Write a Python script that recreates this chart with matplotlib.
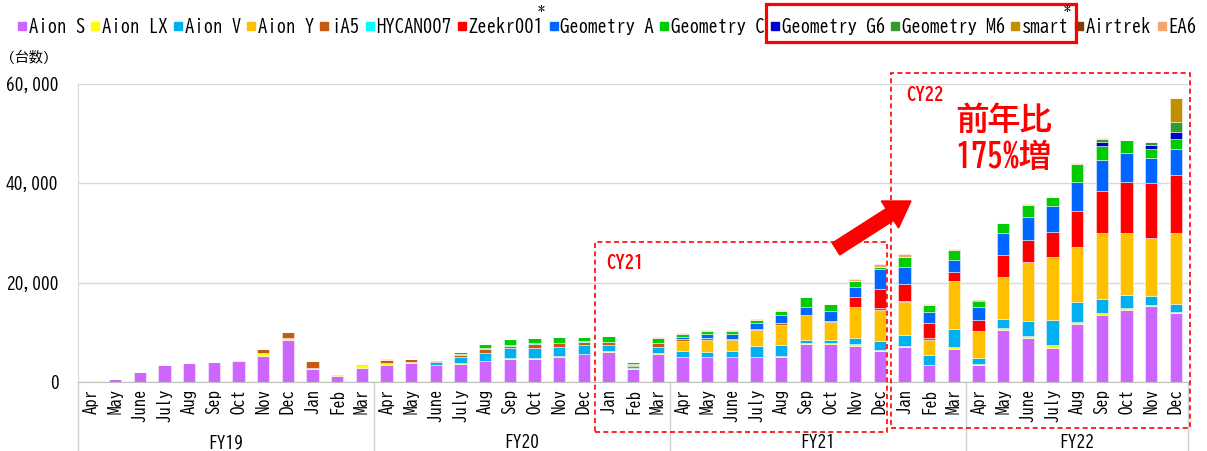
import matplotlib
matplotlib.use('Agg')
import matplotlib.pyplot as plt
import numpy as np
from matplotlib.patches import Rectangle, FancyArrow
from matplotlib.lines import Line2D

plt.rcParams['font.family'] = ['BIZ UDGothic', 'Noto Sans CJK JP', 'DejaVu Sans']

# ---------------- data ----------------
months = (['Apr', 'May', 'June', 'July', 'Aug', 'Sep', 'Oct', 'Nov', 'Dec', 'Jan', 'Feb', 'Mar'] * 3
          + ['Apr', 'May', 'June', 'July', 'Aug', 'Sep', 'Oct', 'Nov', 'Dec'])
fiscal_years = ['FY19', 'FY20', 'FY21', 'FY22']
fy_sizes = [12, 12, 12, 9]

series_names = ['Aion S', 'Aion LX', 'Aion V', 'Aion Y', 'iA5', 'HYCAN007', 'Zeekr001',
                'Geometry A', 'Geometry C', 'Geometry G6', 'Geometry M6', 'smart', 'Airtrek', 'EA6']
series_colors = ['#CC66FF', '#FFFF00', '#00B0F0', '#FFC000', '#C55A11', '#00FFFF', '#FF0000',
                 '#0066FF', '#00CC00', '#0000CC', '#339933', '#BF9000', '#7B3F00', '#F4A46F']

aion_s = [0, 600, 2020, 3365, 3840, 4040, 4170, 5320, 8410, 2560, 1280, 2890,
          3430, 3840, 3430, 3700, 4170, 4710, 4580, 5110, 5590, 6060, 2620, 5720,
          4980, 4980, 4980, 4980, 5110, 7600, 7740, 7340, 6260, 7000, 3365, 6730,
          3365, 10500, 8880, 6800, 11640, 13530, 14540, 15340, 13800]
aion_lx = [0, 0, 0, 0, 0, 0, 340, 470, 470, 340, 270, 540,
           340, 200, 0, 200, 0, 200, 340, 130, 100, 100, 100, 100,
           0, 0, 0, 0, 200, 200, 200, 270, 200, 270, 0, 400,
           270, 400, 340, 600, 470, 400, 270, 150, 200]
aion_v = [0, 0, 0, 0, 0, 0, 0, 0, 0, 0, 0, 0,
          0, 0, 500, 1080, 1750, 1880, 2020, 1880, 1750, 1210, 500, 1210,
          1210, 1080, 1210, 2290, 2090, 670, 540, 1280, 1880, 2220, 2090, 3570,
          1280, 1880, 3030, 5050, 3900, 2690, 2620, 1820, 1620]
aion_y = [0] * 24 + [2090, 2360, 2290, 3300, 4170, 5050, 3700, 6120, 6060, 6530, 3030, 9620,
                     5320, 8350, 11910, 12650, 11100, 13460, 12650, 11640, 14470]
ia5 = [0, 0, 0, 0, 0, 0, 0, 870, 1210, 1280, 0, 200,
       740, 600, 200, 470, 740, 540, 740, 670, 670, 600, 300, 810,
       340, 400, 270, 200, 270, 0, 100, 0, 470, 200, 470, 0,
       100, 0, 0, 0, 0, 0, 0, 0, 0]
hycan007 = [0] * 12 + [0, 0, 300, 270, 150, 100, 150, 100, 150, 100, 100, 100] + [0] * 21
zeekr001 = [0] * 31 + [2020, 3770, 3500, 2890, 1820,
                       2090, 4370, 4370, 5050, 7270, 8350, 10160, 11100, 11580]
geometry_a = [0] * 24 + [400, 810, 1010, 1140, 1620, 1620, 1950, 2090, 4170, 3500, 2150, 2490,
                         2620, 4440, 4780, 5320, 5860, 6330, 5790, 5050, 5250]
geometry_c = [0] * 15 + [340, 940, 1280, 1080, 1080, 870, 1210, 500, 940,
                         600, 670, 540, 670, 740, 2020, 1410, 1140, 400, 2020, 1410, 1950,
                         1350, 2090, 2420, 1820, 3700, 2690, 2690, 1750, 2090]
geometry_g6 = [0] * 41 + [940, 0, 810, 1350]
geometry_m6 = [0] * 41 + [470, 0, 600, 1950]
smart = [0] * 44 + [4850]
airtrek = [0] * 36 + [150] + [0] * 8
ea6 = [0] * 12 + [200] + [0] * 10 + [270,
       270, 270, 270, 200, 270, 0, 0, 400, 600, 600, 340, 270,
       0, 0, 200, 0, 200, 200, 0, 0, 0]

series_values = [aion_s, aion_lx, aion_v, aion_y, ia5, hycan007, zeekr001,
                 geometry_a, geometry_c, geometry_g6, geometry_m6, smart, airtrek, ea6]

yticks = [0, 20000, 40000, 60000]

# ---------------- figure ----------------
W, H = 1207, 451
fig = plt.figure(figsize=(W / 100, H / 100), dpi=100)
ax = fig.add_axes([78 / W, 1 - 382 / H, (1188 - 78) / W, (382 - 84) / H])

x = np.arange(len(months))
bottom = np.zeros(len(months))
for name, color, vals in zip(series_names, series_colors, series_values):
    v = np.array(vals, dtype=float)
    ax.bar(x, v, 0.5, bottom=bottom, color=color, edgecolor=(1, 1, 1, 0.55),
           linewidth=0.6, zorder=2)
    bottom += v

ax.set_xlim(-0.5, len(months) - 0.5)
ax.set_ylim(0, 60000)
ax.set_yticks(yticks)
ax.set_yticklabels([f'{v:,}' for v in yticks], fontsize=12.5)
ax.tick_params(axis='y', length=0, pad=14)
ax.set_xticks(x)
ax.set_xticklabels(months, rotation=90, fontsize=12)
ax.tick_params(axis='x', length=0, pad=5)
ax.grid(axis='y', color='#d9d9d9', linewidth=1)
ax.set_axisbelow(True)
for s in ['top', 'right']:
    ax.spines[s].set_visible(False)
ax.spines['left'].set_color('#d9d9d9')
ax.spines['bottom'].set_color('#bfbfbf')

# group separators and FY labels
xt = ax.get_xaxis_transform()
ybot = -(451 - 382) / (382 - 84)
edges = np.concatenate([[0], np.cumsum(fy_sizes)]) - 0.5
for e in edges:
    ax.add_line(Line2D([e, e], [0, ybot], transform=xt, color='#d0d0d0', lw=1, clip_on=False))
for i, fy in enumerate(fiscal_years):
    c = (edges[i] + edges[i + 1]) / 2
    ax.text(c, -(442 - 382) / (382 - 84), fy, transform=xt, ha='center', va='center', fontsize=12.5)

# unit label
fig.text(8 / W, 1 - 57 / H, '(台数)', fontsize=10, va='center', ha='left')

# ---------------- annotations ----------------
def px2x(px):
    return (px - 78) / ((1188 - 78) / len(months)) - 0.5

def py2y(py):
    return (382 - py) * 60000 / (382 - 84)

dash = (0, (3, 2))
for (x0, x1, y0, y1) in [(595, 887, 432, 242), (891, 1190, 428, 73)]:
    ax.add_patch(Rectangle((px2x(x0), py2y(y0)), px2x(x1) - px2x(x0), py2y(y1) - py2y(y0),
                           fill=False, edgecolor='#FF0000', lw=1.2, linestyle=dash,
                           clip_on=False, zorder=5))
ax.text(px2x(606), py2y(262), 'CY21', color='#FF0000', fontsize=13.5, fontweight='bold',
        ha='left', va='center', zorder=6)
ax.text(px2x(906), py2y(94), 'CY22', color='#FF0000', fontsize=13.5, fontweight='bold',
        ha='left', va='center', zorder=6)
ax.text(px2x(1004), py2y(118), '前年比', color='#FF0000', fontsize=23, fontweight='bold',
        ha='center', va='center', zorder=6)
ax.text(px2x(1004), py2y(156), '175%増', color='#FF0000', fontsize=23, fontweight='bold',
        ha='center', va='center', zorder=6)

# red arrow (in inches so the head keeps its shape)
tx, ty = 836, 249
hx, hy = 911, 201
fig.add_artist(FancyArrow(tx / 100, (H - ty) / 100, (hx - tx) / 100, -(hy - ty) / 100,
                          width=0.14, head_width=0.32, head_length=0.25, length_includes_head=True,
                          color='#FF0000', transform=fig.dpi_scale_trans))

# ---------------- legend (manual, fitted to the width) ----------------
renderer = fig.canvas.get_renderer()
msz, mgap, egap = 8, 3, 6
x_start, x_end = 18, 1198
base_y = 33
fixed = len(series_names) * (msz + mgap) + (len(series_names) - 1) * egap


def text_widths(fs):
    ws = []
    for name in series_names:
        t = fig.text(0.5, 0.5, name, fontsize=fs)
        ws.append(t.get_window_extent(renderer).width)
        t.remove()
    return ws


fs = 13.0
for _ in range(4):
    total = sum(text_widths(fs))
    ratio = (x_end - x_start - fixed) / total
    if abs(ratio - 1) < 0.002:
        break
    fs *= ratio

ext = {}
xpos = x_start
for name, color in zip(series_names, series_colors):
    fig.add_artist(Rectangle((xpos / W, 1 - 30 / H), msz / W, msz / H,
                             transform=fig.transFigure, color=color))
    t = fig.text((xpos + msz + mgap) / W, 1 - base_y / H, name, fontsize=fs,
                 va='baseline', ha='left')
    bb = t.get_window_extent(renderer)
    ext[name] = (xpos, bb.x1)
    xpos = bb.x1 + egap

# asterisks
fig.text((ext['Zeekr001'][1] + 1) / W, 1 - 9 / H, '*', fontsize=10, ha='right', va='center')
fig.text((ext['smart'][1] + 1) / W, 1 - 9 / H, '*', fontsize=10, ha='right', va='center')

# highlight box around new models
l = ext['Geometry G6'][0] - 5
r = ext['smart'][1] + 7
fig.add_artist(Rectangle((l / W, 1 - 42 / H), (r - l) / W, 38 / H, transform=fig.transFigure,
                         fill=False, edgecolor='#FF0000', lw=2.3))

fig.savefig('out.png', dpi=100)
